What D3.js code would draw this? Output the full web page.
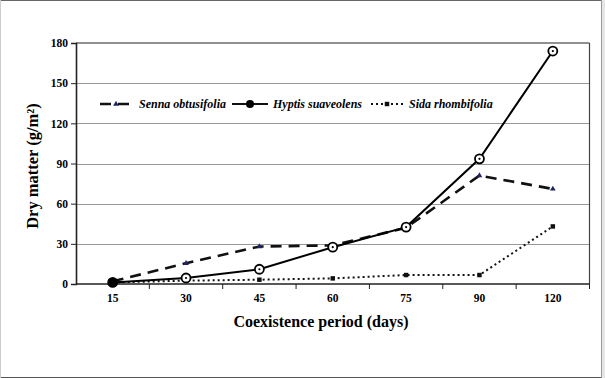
<!DOCTYPE html>
<html>
<head>
<meta charset="utf-8">
<script src="https://cdn.jsdelivr.net/npm/d3@7"></script>
<style>
  body { margin: 0; background: #fff; }
  svg { display: block; font-family: "Liberation Serif", "Times New Roman", serif; }
</style>
</head>
<body>
<div class="chart"></div>
<script>
// Data
var periods = ["15", "30", "45", "60", "75", "90", "120"];
var senna = [2, 15.5, 28, 28.8, 42, 81, 71];
var hyptis = [1.2, 4.5, 11, 27.5, 42.5, 93.5, 174];
var sida = [1.2, 2.5, 3.2, 4.2, 6.7, 6.7, 43];
var yTicks = [0, 30, 60, 90, 120, 150, 180];

var W = 605, H = 378;
var plot = {left: 76, right: 589.5, top: 43, bottom: 284};

var svg = d3.select('.chart').append('svg')
    .attr('width', W)
    .attr('height', H);

// outer frame of the picture
svg.append('rect').attr('x', 601).attr('y', 0).attr('width', 4).attr('height', H).attr('fill', '#e6e6e6');
svg.append('line').attr('x1', 0).attr('x2', 602).attr('y1', 0.5).attr('y2', 0.5).attr('stroke', '#666');
svg.append('line').attr('x1', 0).attr('x2', 602).attr('y1', 377.5).attr('y2', 377.5).attr('stroke', '#555');
svg.append('line').attr('x1', 0.5).attr('x2', 0.5).attr('y1', 0).attr('y2', H).attr('stroke', '#ccc');
svg.append('line').attr('x1', 601.5).attr('x2', 601.5).attr('y1', 0).attr('y2', H).attr('stroke', '#999');

var x = d3.scaleBand()
    .domain(periods)
    .range([plot.left, plot.right])
    .padding(0);

var y = d3.scaleLinear()
    .domain([0, 180])
    .range([plot.bottom, plot.top]);

function cx(i) { return x(periods[i]) + x.bandwidth() / 2; }

// grid lines
svg.append('g').selectAll('line')
    .data(yTicks.filter(function(d) { return d > 0 && d < 180; }))
    .enter().append('line')
    .attr('x1', plot.left).attr('x2', plot.right)
    .attr('y1', function(d) { return Math.round(y(d)) + 0.5; })
    .attr('y2', function(d) { return Math.round(y(d)) + 0.5; })
    .attr('stroke', '#999').attr('stroke-width', 1);

// plot frame (top and right)
svg.append('line').attr('x1', plot.left).attr('x2', plot.right)
    .attr('y1', plot.top).attr('y2', plot.top)
    .attr('stroke', '#222').attr('stroke-width', 1.2);
svg.append('line').attr('x1', plot.right).attr('x2', plot.right)
    .attr('y1', plot.top).attr('y2', plot.bottom)
    .attr('stroke', '#444').attr('stroke-width', 1.2);

// y axis
var yAxis = svg.append('g')
    .attr('transform', 'translate(' + plot.left + ',0)')
    .call(d3.axisLeft(y).tickValues(yTicks).tickSize(5).tickPadding(3));
yAxis.select('.domain').attr('stroke', '#222').attr('stroke-width', 1.6);
yAxis.selectAll('.tick line').attr('stroke', '#222');
yAxis.selectAll('text')
    .attr('font-family', '"Liberation Serif", serif')
    .attr('font-weight', 'bold')
    .attr('font-size', 11.5)
    .attr('fill', '#000');

// x axis: ticks sit between the categories
var xAxis = svg.append('g')
    .attr('transform', 'translate(0,' + plot.bottom + ')');
xAxis.append('line')
    .attr('x1', plot.left).attr('x2', plot.right)
    .attr('stroke', '#222').attr('stroke-width', 1.6);
xAxis.selectAll('.xtick')
    .data(periods)
    .enter().append('line')
    .attr('class', 'xtick')
    .attr('x1', function(d) { return x(d) + x.bandwidth(); })
    .attr('x2', function(d) { return x(d) + x.bandwidth(); })
    .attr('y1', 0).attr('y2', 5)
    .attr('stroke', '#222');
xAxis.selectAll('.xlabel')
    .data(periods)
    .enter().append('text')
    .attr('class', 'xlabel')
    .attr('x', function(d) { return x(d) + x.bandwidth() / 2; })
    .attr('y', 18)
    .attr('text-anchor', 'middle')
    .attr('font-weight', 'bold')
    .attr('font-size', 11.5)
    .text(function(d) { return d; });

// axis titles
svg.append('text')
    .attr('x', 321)
    .attr('y', 327)
    .attr('text-anchor', 'middle')
    .attr('font-weight', 'bold')
    .attr('font-size', 16)
    .text('Coexistence period (days)');

svg.append('text')
    .attr('transform', 'translate(38,' + 166 + ') rotate(-90)')
    .attr('text-anchor', 'middle')
    .attr('font-weight', 'bold')
    .attr('font-size', 16.5)
    .text('Dry matter (g/m²)');

// series lines
var line = d3.line()
    .x(function(d, i) { return cx(i); })
    .y(function(d) { return y(d); });

svg.append('path').datum(sida)
    .attr('d', line)
    .attr('fill', 'none')
    .attr('stroke', '#111')
    .attr('stroke-width', 2)
    .attr('stroke-dasharray', '2,3');

svg.append('path').datum(senna)
    .attr('d', line)
    .attr('fill', 'none')
    .attr('stroke', '#111')
    .attr('stroke-width', 2.6)
    .attr('stroke-dasharray', '11,7');

svg.append('path').datum(hyptis)
    .attr('d', line)
    .attr('fill', 'none')
    .attr('stroke', '#000')
    .attr('stroke-width', 2);

// markers
var tri = d3.symbol().type(d3.symbolTriangle).size(14);
var sq = d3.symbol().type(d3.symbolSquare).size(20);

svg.append('g').selectAll('path')
    .data(sida)
    .enter().append('path')
    .attr('d', sq)
    .attr('transform', function(d, i) { return 'translate(' + cx(i) + ',' + y(d) + ')'; })
    .attr('fill', '#111');

svg.append('g').selectAll('path')
    .data(senna)
    .enter().append('path')
    .attr('d', tri)
    .attr('transform', function(d, i) { return 'translate(' + cx(i) + ',' + y(d) + ')'; })
    .attr('fill', '#1a2466');

var hMarks = svg.append('g').selectAll('g')
    .data(hyptis)
    .enter().append('g')
    .attr('transform', function(d, i) { return 'translate(' + cx(i) + ',' + y(d) + ')'; });
hMarks.append('circle')
    .attr('r', 4.5)
    .attr('fill', function(d, i) { return i === 0 ? '#000' : '#fff'; })
    .attr('stroke', '#000')
    .attr('stroke-width', 1.8);
hMarks.append('circle')
    .attr('r', 1.1)
    .attr('fill', '#000');

// legend
var legendY = 104;
var legend = [
    {name: 'Senna obtusifolia', x0: 100, x1: 132, tx: 139, dash: '11,7', w: 2.6, mark: 'tri'},
    {name: 'Hyptis suaveolens', x0: 232, x1: 268, tx: 273, dash: null, w: 2, mark: 'circle'},
    {name: 'Sida rhombifolia', x0: 371, x1: 403, tx: 409, dash: '2,3', w: 2, mark: 'sq'}
];
var lg = svg.append('g').selectAll('g')
    .data(legend)
    .enter().append('g');
lg.append('line')
    .attr('x1', function(d) { return d.x0; })
    .attr('x2', function(d) { return d.x1; })
    .attr('y1', legendY).attr('y2', legendY)
    .attr('stroke', '#111')
    .attr('stroke-width', function(d) { return d.w; })
    .attr('stroke-dasharray', function(d) { return d.dash; });
lg.each(function(d) {
    var g = d3.select(this);
    var mx = (d.x0 + d.x1) / 2;
    if (d.mark === 'tri') {
        g.append('path').attr('d', tri).attr('fill', '#1a2466')
            .attr('transform', 'translate(' + mx + ',' + legendY + ')');
    } else if (d.mark === 'circle') {
        g.append('circle').attr('cx', mx).attr('cy', legendY).attr('r', 4).attr('fill', '#000');
    } else {
        g.append('path').attr('d', sq).attr('fill', '#111')
            .attr('transform', 'translate(' + mx + ',' + legendY + ')');
    }
});
lg.append('text')
    .attr('x', function(d) { return d.tx; })
    .attr('y', legendY + 4)
    .attr('font-weight', 'bold')
    .attr('font-style', 'italic')
    .attr('font-size', 12)
    .text(function(d) { return d.name; });
</script>
</body>
</html>
